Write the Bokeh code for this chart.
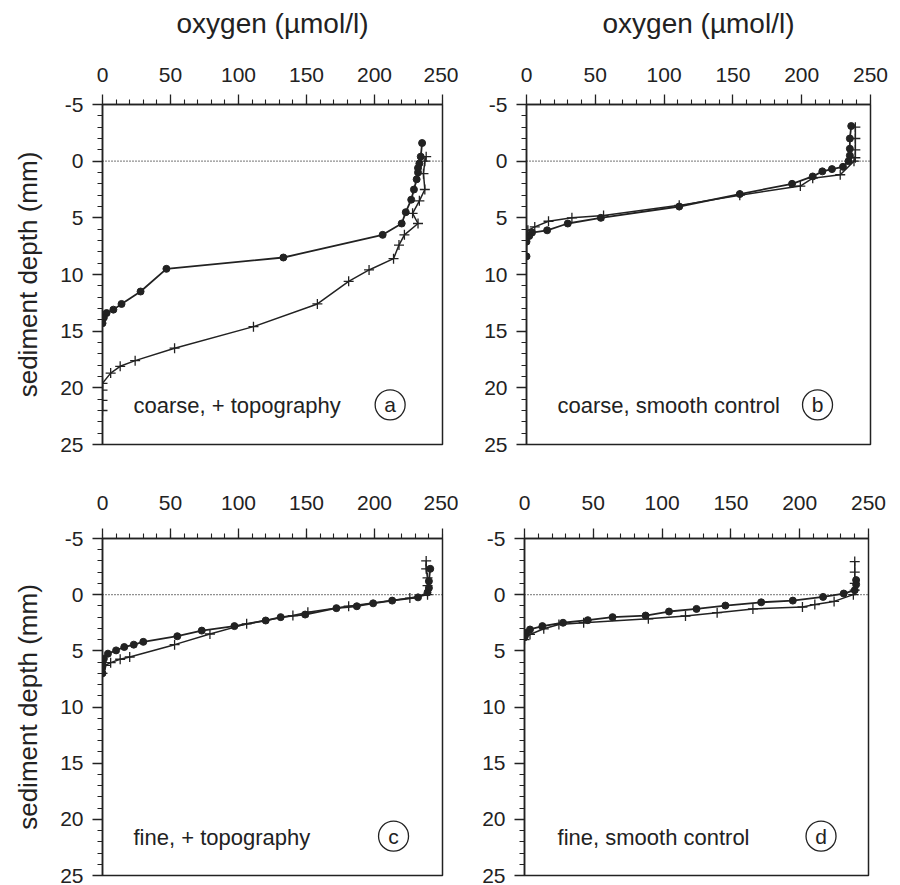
from bokeh.plotting import figure
from bokeh.layouts import column, row
from bokeh.models import Range1d, FixedTicker, Span, Label
from bokeh.embed import file_html
from bokeh.resources import INLINE

# ---------------- data (oxygen µmol/l, sediment depth mm) ----------------
a_dot_o = [235, 234, 233, 232, 232, 231, 229, 227, 223, 220, 206, 133, 47, 28, 14, 8, 3, 1, 0]
a_dot_d = [-1.6, -0.4, 0.2, 0.6, 1.0, 1.6, 2.5, 3.4, 4.5, 5.5, 6.5, 8.5, 9.5, 11.5, 12.6, 13.1, 13.4, 13.8, 14.3]
a_crs_o = [238, 237, 236, 237, 233, 228, 232, 222, 218, 214, 196, 181, 158, 111, 53, 24, 13, 6, 0, 0, 0, 0]
a_crs_d = [-0.4, 0.0, 1.1, 2.5, 3.5, 4.6, 5.5, 6.5, 7.4, 8.6, 9.6, 10.6, 12.6, 14.6, 16.5, 17.6, 18.1, 18.7, 19.6, 20.2, 21.1, 22.0]

b_dot_o = [236, 235, 235, 235, 234, 230, 222, 215, 208, 193, 155, 111, 54, 30, 15, 4, 2, 0, 0]
b_dot_d = [-3.1, -2.0, -1.1, -0.5, 0.0, 0.5, 0.7, 0.9, 1.35, 2.0, 2.9, 4.0, 5.0, 5.5, 6.1, 6.3, 6.6, 7.1, 8.4]
b_crs_o = [239, 239, 239, 239, 238, 228, 208, 199, 155, 111, 56, 33, 16, 6, 1, 0]
b_crs_d = [-3.0, -2.0, -1.0, -0.3, 0.0, 1.2, 1.5, 2.2, 3.0, 3.9, 4.8, 5.0, 5.3, 5.8, 6.1, 6.4]

c_dot_o = [241, 240, 240, 239, 232, 213, 199, 187, 172, 149, 131, 120, 97, 73, 55, 30, 23, 16, 10, 4, 1, 0, 0, 0]
c_dot_d = [-2.3, -1.2, -0.6, -0.2, 0.24, 0.53, 0.77, 1.03, 1.2, 1.77, 2.0, 2.3, 2.8, 3.2, 3.7, 4.2, 4.45, 4.66, 4.96, 5.25, 5.7, 6.0, 6.4, 7.0]
c_crs_o = [238, 238, 239, 239, 239, 226, 181, 151, 140, 106, 79, 53, 20, 13, 6, 2, 0]
c_crs_d = [-3.0, -2.3, -1.5, -0.8, 0.0, 0.3, 1.03, 1.56, 1.86, 2.6, 3.5, 4.45, 5.55, 5.75, 6.05, 6.3, 7.0]

d_dot_o = [241, 241, 240, 232, 217, 195, 172, 146, 125, 105, 88, 64, 46, 28, 13, 4, 1, 0]
d_dot_d = [-1.3, -0.9, -0.4, -0.1, 0.2, 0.53, 0.68, 0.97, 1.27, 1.5, 1.86, 2.0, 2.27, 2.5, 2.8, 3.1, 3.4, 3.8]
d_crs_o = [240, 240, 240, 240, 239, 225, 211, 202, 166, 140, 117, 90, 43, 25, 14, 4, 0]
d_crs_d = [-2.95, -2.0, -1.0, -0.4, 0.0, 0.6, 0.88, 1.1, 1.27, 1.6, 1.9, 2.15, 2.5, 2.65, 3.04, 3.54, 4.0]

x_ticks = [0, 50, 100, 150, 200, 250]
y_ticks = [-5, 0, 5, 10, 15, 20, 25]
y_tick_text = {-5: "-5"}
panel_notes = ["coarse, + topography", "coarse, smooth control", "fine, + topography", "fine, smooth control"]
panel_letters = ["a", "b", "c", "d"]
x_title = "oxygen (\u00b5mol/l)"
y_title = "sediment depth (mm)"

FONT = "Liberation Sans"
INK = "#222222"


def make_panel(w, h, bl, br, bt, bb, dot_o, dot_d, crs_o, crs_d, note, letter,
               xlabel, ylabel, note_x, letter_x, x_standoff):
    p = figure(width=w, height=h, x_range=Range1d(0, 250), y_range=Range1d(25, -5),
               x_axis_location="above", output_backend="svg", toolbar_location=None,
               min_border_left=bl, min_border_right=br, min_border_top=bt, min_border_bottom=bb)
    p.grid.visible = False
    p.outline_line_color = INK
    p.outline_line_width = 1.5
    p.outline_line_alpha = 1.0

    xa = p.xaxis[0]
    xa.ticker = FixedTicker(ticks=x_ticks, minor_ticks=list(range(0, 251, 10)))
    ya = p.yaxis[0]
    ya.ticker = FixedTicker(ticks=y_ticks, minor_ticks=list(range(-5, 26)))
    ya.major_label_overrides = y_tick_text
    for ax in (xa, ya):
        ax.axis_line_color = INK
        ax.axis_line_width = 1.5
        ax.major_tick_line_color = INK
        ax.minor_tick_line_color = INK
        ax.major_tick_line_width = 1.3
        ax.minor_tick_line_width = 1.1
        ax.major_tick_in = 0
        ax.minor_tick_in = 0
        ax.major_tick_out = 10
        ax.minor_tick_out = 5
        ax.major_label_text_font = FONT
        ax.major_label_text_font_size = "21px"
        ax.major_label_text_color = INK
        ax.axis_label_text_font = FONT
        ax.axis_label_text_font_style = "normal"
        ax.axis_label_text_color = INK
    xa.major_label_standoff = x_standoff
    ya.major_label_standoff = 9
    if xlabel:
        xa.axis_label = xlabel
        xa.axis_label_standoff = 26
        xa.axis_label_text_font_size = "28px"
    if ylabel:
        ya.axis_label = ylabel
        ya.axis_label_standoff = 14
        ya.axis_label_text_font_size = "26px"

    p.add_layout(Span(location=0, dimension="width", line_color=INK,
                      line_dash="1 2", line_width=1.2))

    p.line(dot_o, dot_d, line_color=INK, line_width=1.8)
    p.line(crs_o, crs_d, line_color=INK, line_width=1.5)
    p.scatter(dot_o, dot_d, marker="circle", size=7, fill_color=INK, line_color=INK)
    p.scatter(crs_o, crs_d, marker="cross", size=10, line_color=INK, line_width=1.3)

    p.add_layout(Label(x=note_x, y=21.6, text=note, text_font=FONT, text_font_size="22px",
                       text_color=INK, text_baseline="middle", text_align="left"))
    p.scatter([letter_x], [21.5], marker="circle", size=30, fill_color=None,
              line_color=INK, line_width=1.3)
    p.add_layout(Label(x=letter_x, y=21.5, text=letter, text_font=FONT, text_font_size="21px",
                       text_color=INK, text_baseline="middle", text_align="center"))
    return p


pa = make_panel(458, 485, 102, 16, 104, 41, a_dot_o, a_dot_d, a_crs_o, a_crs_d,
                panel_notes[0], panel_letters[0], x_title, y_title, 22.8, 211.5, 13)
pb = make_panel(434, 485, 68, 22, 104, 41, b_dot_o, b_dot_d, b_crs_o, b_crs_d,
                panel_notes[1], panel_letters[1], x_title, None, 22.5, 211.5, 13)
pc = make_panel(458, 400, 102, 16, 53, 10, c_dot_o, c_dot_d, c_crs_o, c_crs_d,
                panel_notes[2], panel_letters[2], None, y_title, 22.8, 214, 19)
pd = make_panel(434, 400, 66, 24, 53, 10, d_dot_o, d_dot_d, d_crs_o, d_crs_d,
                panel_notes[3], panel_letters[3], None, None, 24, 215.5, 19)

layout = column(row(pa, pb), row(pc, pd))
open("out.html", "w").write(file_html(layout, INLINE))
